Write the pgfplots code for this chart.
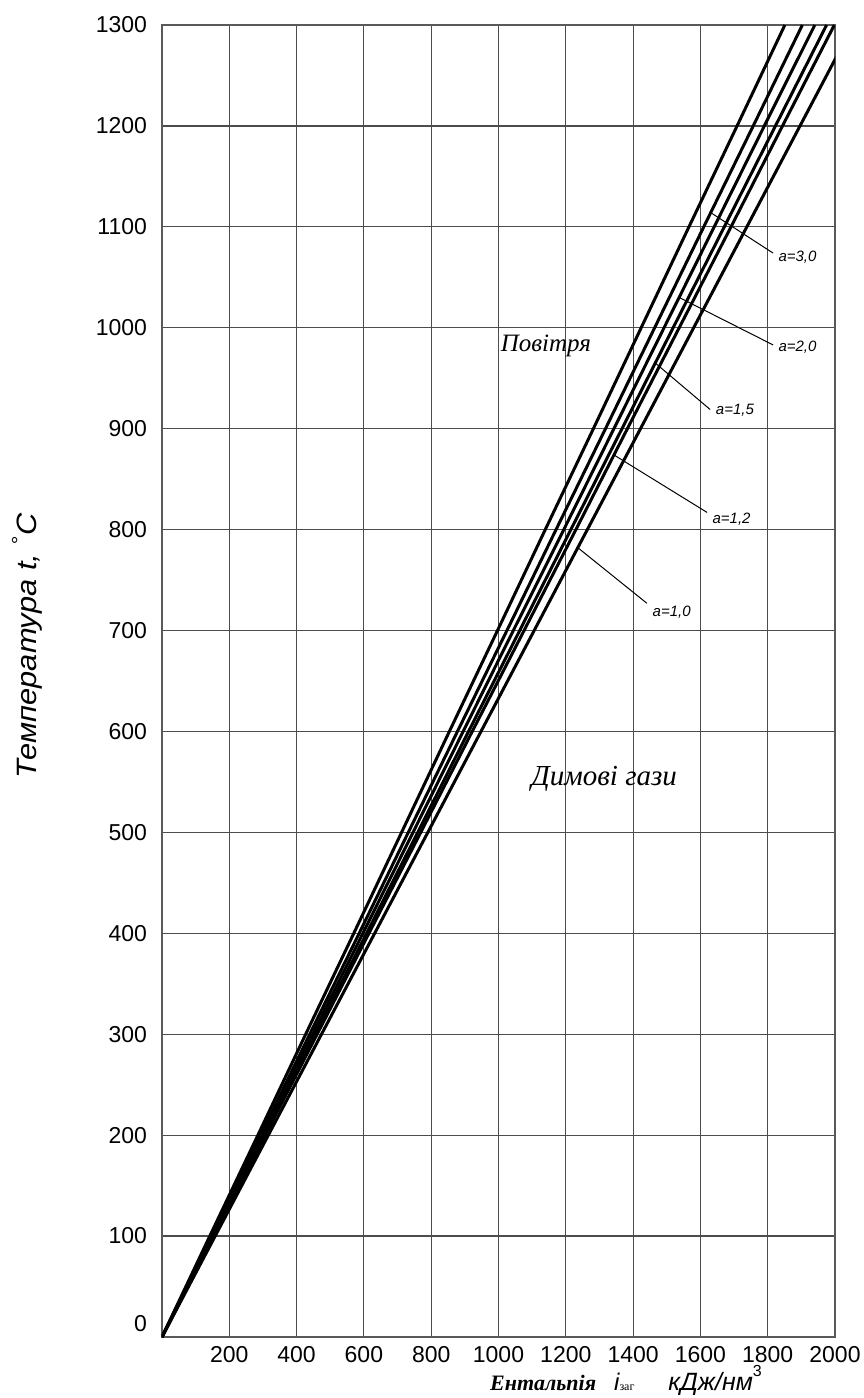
\documentclass[border=0pt]{standalone}
\usepackage{fontspec}
\setmainfont{Liberation Sans}
\newfontfamily\serif{Liberation Serif}
\usepackage{graphicx}
\usepackage{pgfplots}
\usepackage{pgfplotstable}
\pgfplotsset{compat=1.18}

% temperature T (deg C) vs enthalpy i (kJ/nm^3)
\pgfplotstableread{
T    air   a30   a20   a15   a12   a10
0    0     0     0     0     0     0
100  142   146   149   152   154   158
200  285   293   298   304   307   316
300  427   439   448   456   461   474
400  570   586   597   608   615   632
500  712   732   746   760   769   790
600  854   878   895   911   922   948
700  997   1025  1044  1063  1076  1106
800  1139  1171  1194  1215  1230  1264
900  1282  1318  1343  1367  1383  1422
1000 1424  1464  1492  1519  1537  1580
1100 1566  1610  1641  1671  1691  1738
1200 1709  1757  1790  1823  1844  1896
1300 1851  1903  1940  1975  1998  2054
}\data

\begin{document}
\begin{tikzpicture}
\begin{axis}[name=ax, scale only axis, width=336.5pt, height=656pt,
  xmin=0, xmax=2000, ymin=0, ymax=1300,
  xtick={200,400,...,2000}, ytick={0,100,...,1300},
  grid=major, major grid style={draw=black!70, line width=0.6pt},
  axis line style={draw=black!65, line width=0.8pt},
  major tick length=0pt,
  tick label style={font=\fontsize{11.5}{12}\selectfont},
  /pgf/number format/assume math mode=true,
  /pgf/number format/set thousands separator={},
  yticklabel style={xshift=-4pt},
  xticklabel style={yshift=-1pt},
  yticklabel={\ifdim\tick pt=0pt \smash{\raisebox{3pt}{0}}\else\pgfmathprintnumber{\tick}\fi},
  xlabel={{\serif\bfseries\itshape\fontsize{11}{12}\selectfont Ентальпія}\hspace{9pt}{\itshape\fontsize{12}{12}\selectfont i}{\serif\fontsize{6}{6}\selectfont заг}\hspace{17pt}{\itshape\fontsize{12.5}{12}\selectfont кДж/нм}\raisebox{7pt}{\fontsize{8}{8}\selectfont 3}},
  xlabel style={at={(axis description cs:0.487,-0.041)}, anchor=base west, inner sep=0pt},
  ylabel={\scalebox{1.1}[1]{\fontsize{14}{14}\selectfont\itshape Температура t, \textsuperscript{°}C}},
  ylabel style={at={(axis description cs:-0.2006,0.527)}, anchor=center, inner sep=0pt},
]
\addplot[black, line width=1.5pt] table[x=air, y=T] {\data};
\addplot[black, line width=1.5pt] table[x=a30, y=T] {\data};
\addplot[black, line width=1.5pt] table[x=a20, y=T] {\data};
\addplot[black, line width=1.5pt] table[x=a15, y=T] {\data};
\addplot[black, line width=1.5pt] table[x=a12, y=T] {\data};
\addplot[black, line width=1.5pt] table[x=a10, y=T] {\data};

\draw[black, line width=0.5pt] (axis cs:1631,1114) -- (axis cs:1816,1074);
\draw[black, line width=0.5pt] (axis cs:1537,1030) -- (axis cs:1816,983);
\draw[black, line width=0.5pt] (axis cs:1466,965) -- (axis cs:1629,919);
\draw[black, line width=0.5pt] (axis cs:1343,874) -- (axis cs:1620,817);
\draw[black, line width=0.5pt] (axis cs:1236,782) -- (axis cs:1441,727);

\begin{scope}[every node/.style={anchor=west, inner sep=0pt, font=\itshape\fontsize{7.5}{7.5}\selectfont}]
\node at (axis cs:1831,1070) {a=3,0};
\node at (axis cs:1831,981) {a=2,0};
\node at (axis cs:1645,918) {a=1,5};
\node at (axis cs:1635,810) {a=1,2};
\node at (axis cs:1457,718) {a=1,0};
\end{scope}

\node[font=\serif\itshape\fontsize{12.5}{13}\selectfont] at (axis cs:1141,982) {Повітря};
\node[font=\serif\itshape\fontsize{14.5}{15}\selectfont] at (axis cs:1314,553) {Димові гази};
\end{axis}
\pgfresetboundingbox
\useasboundingbox ([xshift=-81pt, yshift=-30.5pt]ax.south west) rectangle ([xshift=14pt, yshift=12.5pt]ax.north east);
\end{tikzpicture}
\end{document}
